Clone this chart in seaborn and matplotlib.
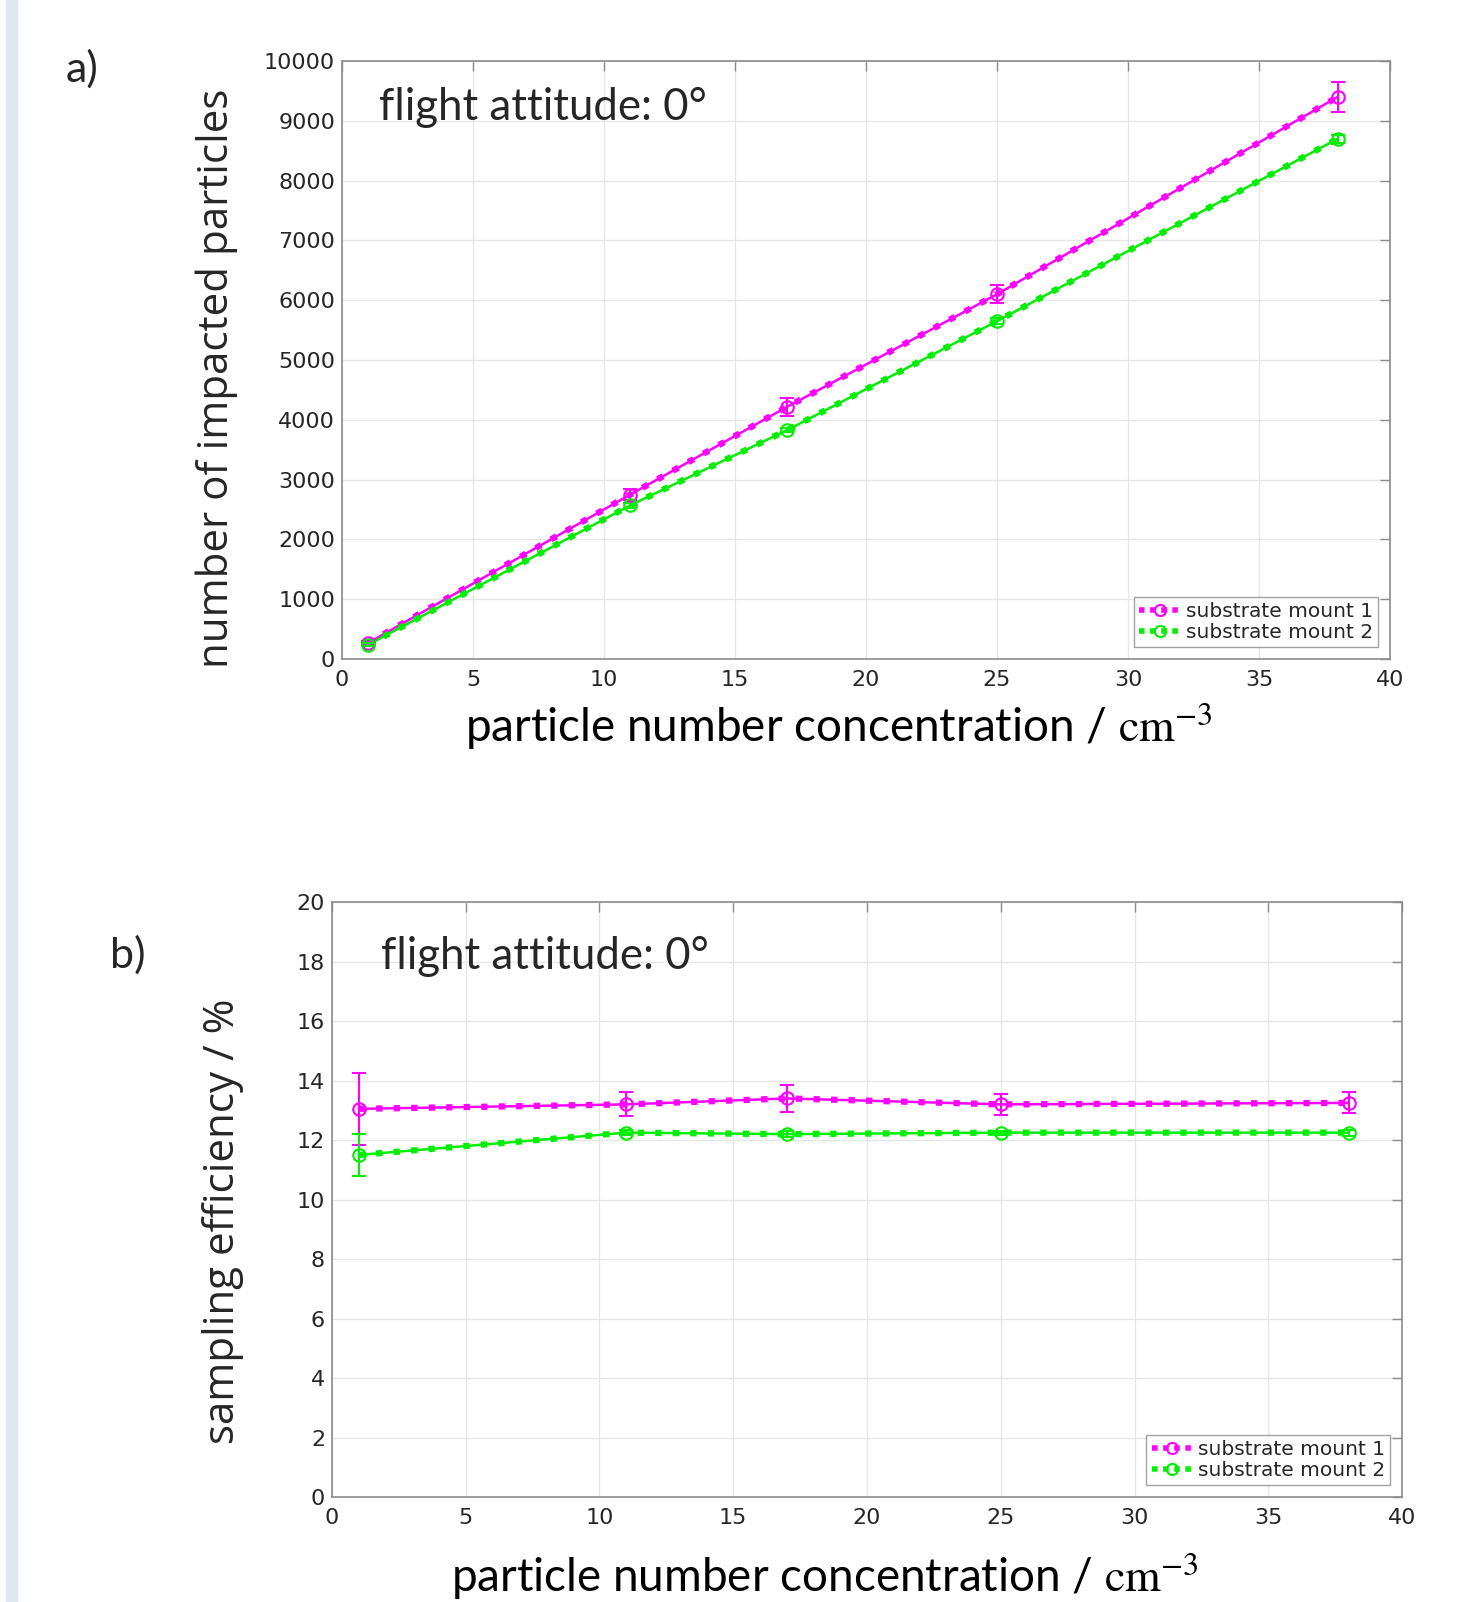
import matplotlib
matplotlib.use("Agg")
import matplotlib.pyplot as plt
from matplotlib.lines import Line2D
from matplotlib.patches import Rectangle
import seaborn as sns
import pandas as pd

# data
conc = [1, 11, 17, 25, 38]

impacted_m1 = [270, 2750, 4220, 6100, 9400]
impacted_m1_err = [40, 90, 150, 150, 250]
impacted_m2 = [240, 2570, 3830, 5650, 8700]
impacted_m2_err = [25, 40, 40, 50, 70]

eff_m1 = [13.05, 13.2, 13.4, 13.2, 13.25]
eff_m1_err = [1.2, 0.4, 0.45, 0.35, 0.35]
eff_m2 = [11.5, 12.25, 12.2, 12.25, 12.25]
eff_m2_err = [0.7, 0.08, 0.1, 0.07, 0.1]

series_names = ["substrate mount 1", "substrate mount 2"]
colors = ["#ff00ff", "#00ee00"]

sns.set_theme(style="white")
plt.rcParams["font.family"] = ["DejaVu Sans"]
plt.rcParams["mathtext.fontset"] = "stix"

label_font = ["Lato", "DejaVu Sans"]
ylab_font = ["Open Sans", "DejaVu Sans"]
xlab = r"particle number concentration / $\mathrm{cm}^{-3}$"


def draw_series(ax, y, yerr, color):
    df = pd.DataFrame({"x": conc, "y": y})
    sns.lineplot(data=df, x="x", y="y", ax=ax, color=color, lw=1.8)
    sns.lineplot(data=df, x="x", y="y", ax=ax, color=color, lw=4.5,
                 dashes=False, linestyle=(0, (1, 1.8)))
    ax.errorbar(conc, y, yerr=yerr, fmt="o", color=color, mfc="none",
                ms=9, mew=1.5, capsize=5, elinewidth=1.5, zorder=5)


def style_axes(ax, xmax, ymax, ystep, xlabpad, xlab_x):
    ax.set_xlim(0, xmax)
    ax.set_ylim(0, ymax)
    ax.set_xticks(range(0, xmax + 1, 5))
    ax.set_yticks(range(0, ymax + 1, ystep))
    ax.grid(True, color="#e6e6e6", lw=1)
    for s in ax.spines.values():
        s.set_color("#8c8c8c")
        s.set_linewidth(1.2)
    ax.tick_params(direction="in", length=7, width=1, color="#8c8c8c",
                   labelsize=16, labelcolor="#262626", top=True, right=True)
    ax.tick_params(axis="x", pad=8)
    ax.tick_params(axis="y", pad=5)
    ax.set_xlabel(xlab, fontsize=33, family=label_font, color="black",
                  labelpad=xlabpad)
    ax.xaxis.label.set_x(xlab_x)
    handles = [Line2D([], [], color=c, lw=4, linestyle=(0, (1, 1)),
                      marker="o", mfc="none", ms=8, mew=1.5)
               for c in colors]
    ax.legend(handles, series_names, loc="lower right", fontsize=14.5,
              frameon=True, fancybox=False, edgecolor="#8c8c8c",
              handlelength=2.0, handletextpad=0.3, borderpad=0.25,
              labelspacing=0.1, borderaxespad=0.6)


fig = plt.figure(figsize=(14.74, 16.02), dpi=100)
fig.patches.append(Rectangle((6 / 1474, 0), 11 / 1474, 1,
                             transform=fig.transFigure, color="#dfe7f0"))

ax1 = fig.add_axes([0.232, 0.5886, 0.711, 0.3733])
draw_series(ax1, impacted_m1, impacted_m1_err, colors[0])
draw_series(ax1, impacted_m2, impacted_m2_err, colors[1])
style_axes(ax1, 40, 10000, 1000, 8, 0.474)
ax1.set_ylabel("number of impacted particles", fontsize=30.3,
               family=ylab_font, labelpad=19)
ax1.yaxis.label.set_y(0.47)
ax1.text(0.035, 0.923, "flight attitude: 0°", transform=ax1.transAxes,
         fontsize=31.5, family=label_font, va="center")

ax2 = fig.add_axes([0.2252, 0.0655, 0.726, 0.3714])
draw_series(ax2, eff_m1, eff_m1_err, colors[0])
draw_series(ax2, eff_m2, eff_m2_err, colors[1])
style_axes(ax2, 40, 20, 2, 17, 0.461)
ax2.set_ylabel("sampling efficiency / %", fontsize=30.3,
               family=ylab_font, labelpad=38)
ax2.yaxis.label.set_y(0.464)
ax2.text(0.046, 0.909, "flight attitude: 0°", transform=ax2.transAxes,
         fontsize=31.5, family=label_font, va="center")

fig.text(82 / 1474, 1 - 69 / 1602, "a)", fontsize=31, family=label_font,
         ha="center", va="center")
fig.text(128 / 1474, 1 - 955 / 1602, "b)", fontsize=31, family=label_font,
         ha="center", va="center")

fig.savefig("out.png", dpi=100)
